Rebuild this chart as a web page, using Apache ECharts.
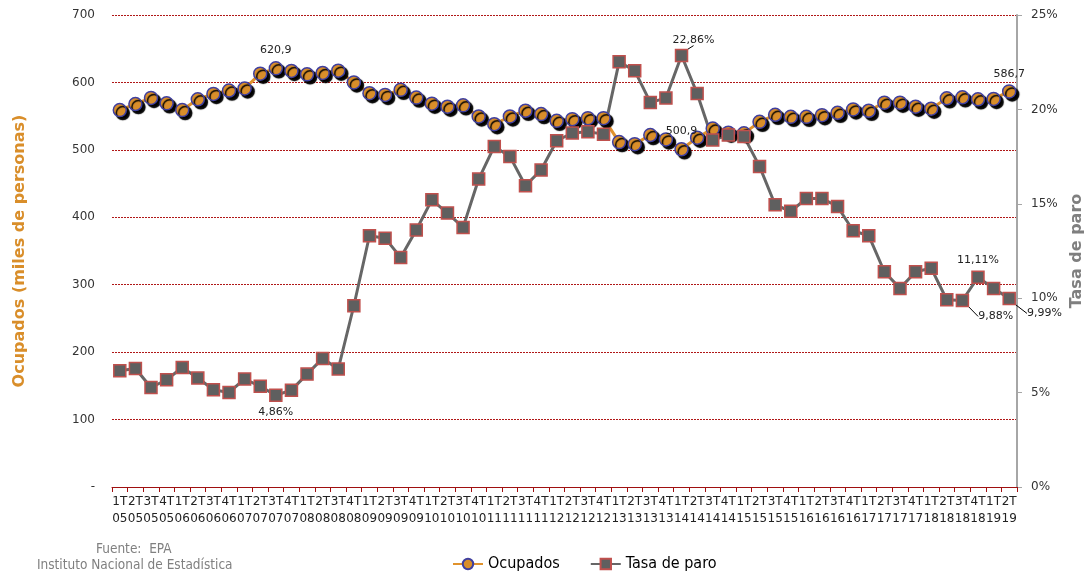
<!DOCTYPE html>
<html>
<head>
<meta charset="utf-8">
<script src="https://cdn.jsdelivr.net/npm/echarts@6/dist/echarts.min.js"></script>
<style>
  html, body { margin: 0; padding: 0; background: #fff; }
  #chart { width: 1084px; height: 580px; }
</style>
</head>
<body>
<div id="chart"></div>
<script>
// trimestres 1T05 .. 2T19
const periodos = [
  '1T\n05', '2T\n05', '3T\n05', '4T\n05', '1T\n06', '2T\n06', '3T\n06', '4T\n06',
  '1T\n07', '2T\n07', '3T\n07', '4T\n07', '1T\n08', '2T\n08', '3T\n08', '4T\n08',
  '1T\n09', '2T\n09', '3T\n09', '4T\n09', '1T\n10', '2T\n10', '3T\n10', '4T\n10',
  '1T\n11', '2T\n11', '3T\n11', '4T\n11', '1T\n12', '2T\n12', '3T\n12', '4T\n12',
  '1T\n13', '2T\n13', '3T\n13', '4T\n13', '1T\n14', '2T\n14', '3T\n14', '4T\n14',
  '1T\n15', '2T\n15', '3T\n15', '4T\n15', '1T\n16', '2T\n16', '3T\n16', '4T\n16',
  '1T\n17', '2T\n17', '3T\n17', '4T\n17', '1T\n18', '2T\n18', '3T\n18', '4T\n18',
  '1T\n19', '2T\n19'
]

// miles de personas
const ocupados = [
  559, 568, 577, 569, 559, 575, 583, 588,
  591, 613, 620.9, 617, 612, 614, 617.5, 600,
  584, 581.5, 589, 577.5, 568.5, 564, 566, 549.5,
  538, 549.5, 558, 553, 543, 545.5, 547, 547,
  511.5, 508.5, 522, 515.5, 500.9, 518, 531.5, 525.5,
  524.5, 541.5, 552, 549, 549, 551.5, 555, 560,
  558, 570, 570, 564, 561, 576.5, 578, 575,
  575.5, 586.7
]

// %
const tasaParo = [
  6.16, 6.28, 5.27, 5.68, 6.33, 5.77, 5.15, 5.01,
  5.72, 5.33, 4.86, 5.13, 5.98, 6.81, 6.25, 9.60,
  13.31, 13.18, 12.16, 13.61, 15.21, 14.51, 13.75, 16.31,
  18.04, 17.51, 15.96, 16.79, 18.34, 18.75, 18.82, 18.69,
  22.52, 22.05, 20.37, 20.60, 22.86, 20.84, 18.38, 18.64,
  18.57, 16.98, 14.95, 14.60, 15.28, 15.28, 14.86, 13.57,
  13.31, 11.40, 10.52, 11.40, 11.59, 9.92, 9.88, 11.11,
  10.52, 9.99
]

// puntos con etiqueta
const etiquetasOcupados = [10, 36, 57]
const etiquetasParo = { 10: 'bottom', 36: 'top', 54: 'right', 55: 'top', 57: 'right' }

const fmt = v => String(v).replace('.', ',')

const dataOcupados = ocupados.map((v, i) => {
  if (etiquetasOcupados.includes(i)) {
    return { value: v, label: { show: true, position: 'top', formatter: p => fmt(p.value) } }
  }
  return v
})

const dataParo = tasaParo.map((v, i) => {
  const pos = etiquetasParo[i]
  if (pos) {
    const item = { value: v, label: { show: true, position: pos, formatter: p => fmt(p.value.toFixed(2)) + '%' } }
    if (i === 10) item.label.offset = [18, -4]
    if (i === 36 || i === 54 || i === 57) item.labelLine = { show: true }
    return item
  }
  return v
})

const textFont = 'DejaVu Sans, Verdana, sans-serif'
const narrowFont = 'DejaVu Sans Condensed, Liberation Sans, sans-serif'

const option = {
  animation: false,
  backgroundColor: '#fff',
  grid: { left: 112, right: 67, top: 15, bottom: 93, outerBoundsMode: 'none', containLabel: false },
  legend: {
    bottom: 3,
    left: 447,
    itemWidth: 30,
    itemHeight: 13,
    itemGap: 30,
    textStyle: { fontFamily: narrowFont, fontSize: 16, color: '#000' },
    data: ['Ocupados', 'Tasa de paro']
  },
  graphic: [
    {
      type: 'text', left: 96, top: 542,
      style: { text: 'Fuente:  EPA', fill: '#808080', font: '13.5px ' + narrowFont }
    },
    {
      type: 'text', left: 37, top: 558,
      style: { text: 'Instituto Nacional de Estadística', fill: '#808080', font: '13.5px ' + narrowFont }
    }
  ],
  xAxis: {
    type: 'category',
    data: periodos,
    boundaryGap: true,
    axisLine: { lineStyle: { color: '#a01010', width: 1 } },
    axisTick: { show: true, length: 5, lineStyle: { color: '#a01010' } },
    axisLabel: {
      interval: 0,
      margin: 6,
      color: '#222',
      fontFamily: textFont,
      fontSize: 12,
      lineHeight: 17,
      hideOverlap: false
    }
  },
  yAxis: [
    {
      type: 'value',
      min: 0,
      max: 700,
      interval: 100,
      name: 'Ocupados (miles de personas)',
      nameLocation: 'middle',
      nameGap: 84,
      nameTextStyle: { color: '#D98E2A', fontWeight: 'bold', fontSize: 16, fontFamily: textFont },
      axisLine: { show: false },
      axisTick: { show: false },
      axisLabel: {
        margin: 17,
        color: '#333',
        fontFamily: textFont,
        fontSize: 12,
        formatter: v => (v === 0 ? '-' : v)
      },
      splitLine: { lineStyle: { color: '#b01818', type: [2, 1], width: 1 } }
    },
    {
      type: 'value',
      min: 0,
      max: 25,
      interval: 5,
      name: 'Tasa de paro',
      nameLocation: 'middle',
      nameGap: 50,
      nameTextStyle: { color: '#7f7f7f', fontWeight: 'bold', fontSize: 16, fontFamily: textFont },
      axisLine: { show: true, lineStyle: { color: '#a6a6a6', width: 2 } },
      axisTick: { show: true, length: 5, lineStyle: { color: '#a6a6a6' } },
      axisLabel: {
        margin: 14,
        color: '#333',
        fontFamily: textFont,
        fontSize: 12,
        formatter: '{value}%'
      },
      splitLine: { show: false }
    }
  ],
  series: [
    {
      name: 'Ocupados',
      type: 'line',
      yAxisIndex: 0,
      data: dataOcupados,
      symbol: 'circle',
      symbolSize: 13,
      lineStyle: { color: '#E0922C', width: 3 },
      itemStyle: {
        color: '#D98E2A',
        borderColor: '#3f3f9f',
        borderWidth: 1.5,
        shadowColor: '#000',
        shadowBlur: 1,
        shadowOffsetX: 3,
        shadowOffsetY: 3
      },
      label: { color: '#222', fontFamily: textFont, fontSize: 11 }
    },
    {
      name: 'Tasa de paro',
      type: 'line',
      yAxisIndex: 1,
      data: dataParo,
      symbol: 'rect',
      symbolSize: 12,
      lineStyle: { color: '#666666', width: 3 },
      itemStyle: { color: '#5f5f5f', borderColor: '#c0504d', borderWidth: 1.5 },
      label: { color: '#222', fontFamily: textFont, fontSize: 11 },
      labelLine: { lineStyle: { color: '#000', width: 1 } },
      labelLayout: function (p) {
        if (p.dataIndex === 36) return { dx: 12, dy: 2 }
        if (p.dataIndex === 54) return { dx: 4, dy: 16 }
        if (p.dataIndex === 57) return { dx: 6, dy: 15 }
      }
    }
  ]
}

const chart = echarts.init(document.getElementById('chart'))
chart.setOption(option)
</script>
</body>
</html>
